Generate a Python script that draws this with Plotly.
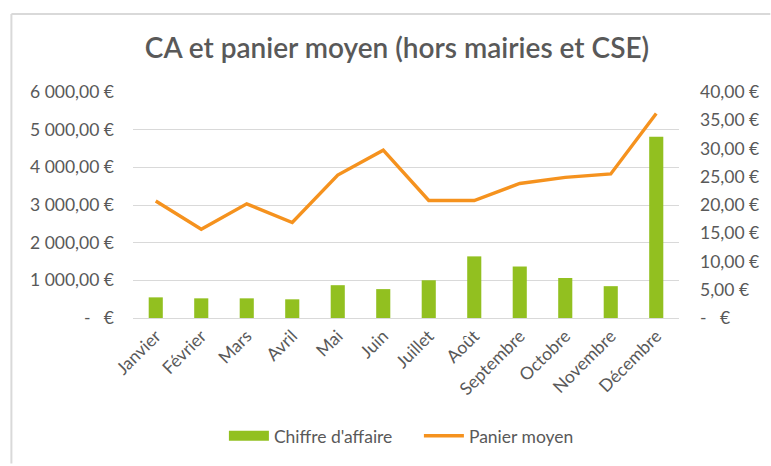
import plotly.graph_objects as go

# Monthly data
mois = ["Janvier", "Février", "Mars", "Avril", "Mai", "Juin", "Juillet",
        "Août", "Septembre", "Octobre", "Novembre", "Décembre"]
chiffre_affaire = [548, 522, 522, 496, 871, 767, 1002, 1636, 1367, 1062, 845, 4810]
panier_moyen = [20.7, 15.7, 20.2, 16.9, 25.3, 29.7, 20.8, 20.8, 23.8, 24.9, 25.5, 36.2]

# Axis ticks
ca_ticks = [0, 1000, 2000, 3000, 4000, 5000, 6000]
ca_ticktext = ["-   €", "1 000,00 €", "2 000,00 €", "3 000,00 €",
               "4 000,00 €", "5 000,00 €", "6 000,00 €"]
pm_ticks = [0, 5, 10, 15, 20, 25, 30, 35, 40]
pm_ticktext = ["-   €", "5,00 €", "10,00 €", "15,00 €", "20,00 €",
               "25,00 €", "30,00 €", "35,00 €", "40,00 €"]

GREEN = "#92c020"
ORANGE = "#f5921e"
TEXT = "#595959"
GRID = "#d9d9d9"
FONT = "Lato, Open Sans, sans-serif"
FS = 17.5

fig = go.Figure()
fig.add_trace(go.Bar(
    x=mois, y=chiffre_affaire, name="Chiffre d'affaire", showlegend=False,
    marker=dict(color=GREEN, line=dict(width=0)), yaxis="y",
))
# wide rectangular legend key for the bar series
fig.add_trace(go.Scatter(
    x=[None], y=[None], name="Chiffre d'affaire", mode="lines",
    line=dict(color=GREEN, width=10), yaxis="y", hoverinfo="skip",
))
fig.add_trace(go.Scatter(
    x=mois, y=panier_moyen, name="Panier moyen", mode="lines",
    line=dict(color=ORANGE, width=3.4), yaxis="y2",
))

W, H = 771, 466
L, R, T, B = 133, 88, 92, 144

def px_x(p):
    return (p - L) / (W - L - R)

def px_y(p):
    return (H - B - p) / (H - B - T)

fig.update_layout(
    width=W, height=H,
    margin=dict(l=L, r=R, t=T, b=B),
    paper_bgcolor="white", plot_bgcolor="white",
    font=dict(family=FONT, color=TEXT, size=FS),
    bargap=0.69,
    title=dict(
        text="CA et panier moyen (hors mairies et CSE)",
        font=dict(family=FONT, size=28, color=TEXT, weight=600),
        x=397 / W, xanchor="center", xref="container",
        y=1 - 48 / H, yanchor="middle", yref="container",
    ),
    xaxis=dict(
        tickangle=-45, showgrid=False, showline=True, linecolor=GRID,
        ticks="", tickfont=dict(size=FS, color=TEXT),
    ),
    yaxis=dict(
        range=[0, 6000], tickvals=ca_ticks, ticktext=ca_ticktext,
        showgrid=True, gridcolor=GRID, gridwidth=1, zeroline=False,
        ticks="", ticklabelstandoff=18, tickfont=dict(size=FS, color=TEXT),
    ),
    yaxis2=dict(
        range=[0, 40], tickvals=pm_ticks, ticktext=pm_ticktext,
        overlaying="y", side="right", showgrid=False, zeroline=False,
        ticks="", ticklabelstandoff=20, tickfont=dict(size=FS, color=TEXT),
    ),
    legend=dict(
        orientation="h", x=px_x(421), xanchor="center",
        y=px_y(442), yanchor="middle",
        font=dict(size=FS, color=TEXT), itemwidth=40,
        entrywidth=140,
    ),
    shapes=[
        # chart frame
        dict(type="line", xref="paper", yref="paper",
             x0=px_x(10.5), x1=px_x(10.5), y0=px_y(12.5), y1=px_y(470),
             line=dict(color=GRID, width=2)),
        dict(type="line", xref="paper", yref="paper",
             x0=px_x(10.5), x1=px_x(775), y0=px_y(12.5), y1=px_y(12.5),
             line=dict(color=GRID, width=2)),
    ],
)

fig.write_html("out.html")
